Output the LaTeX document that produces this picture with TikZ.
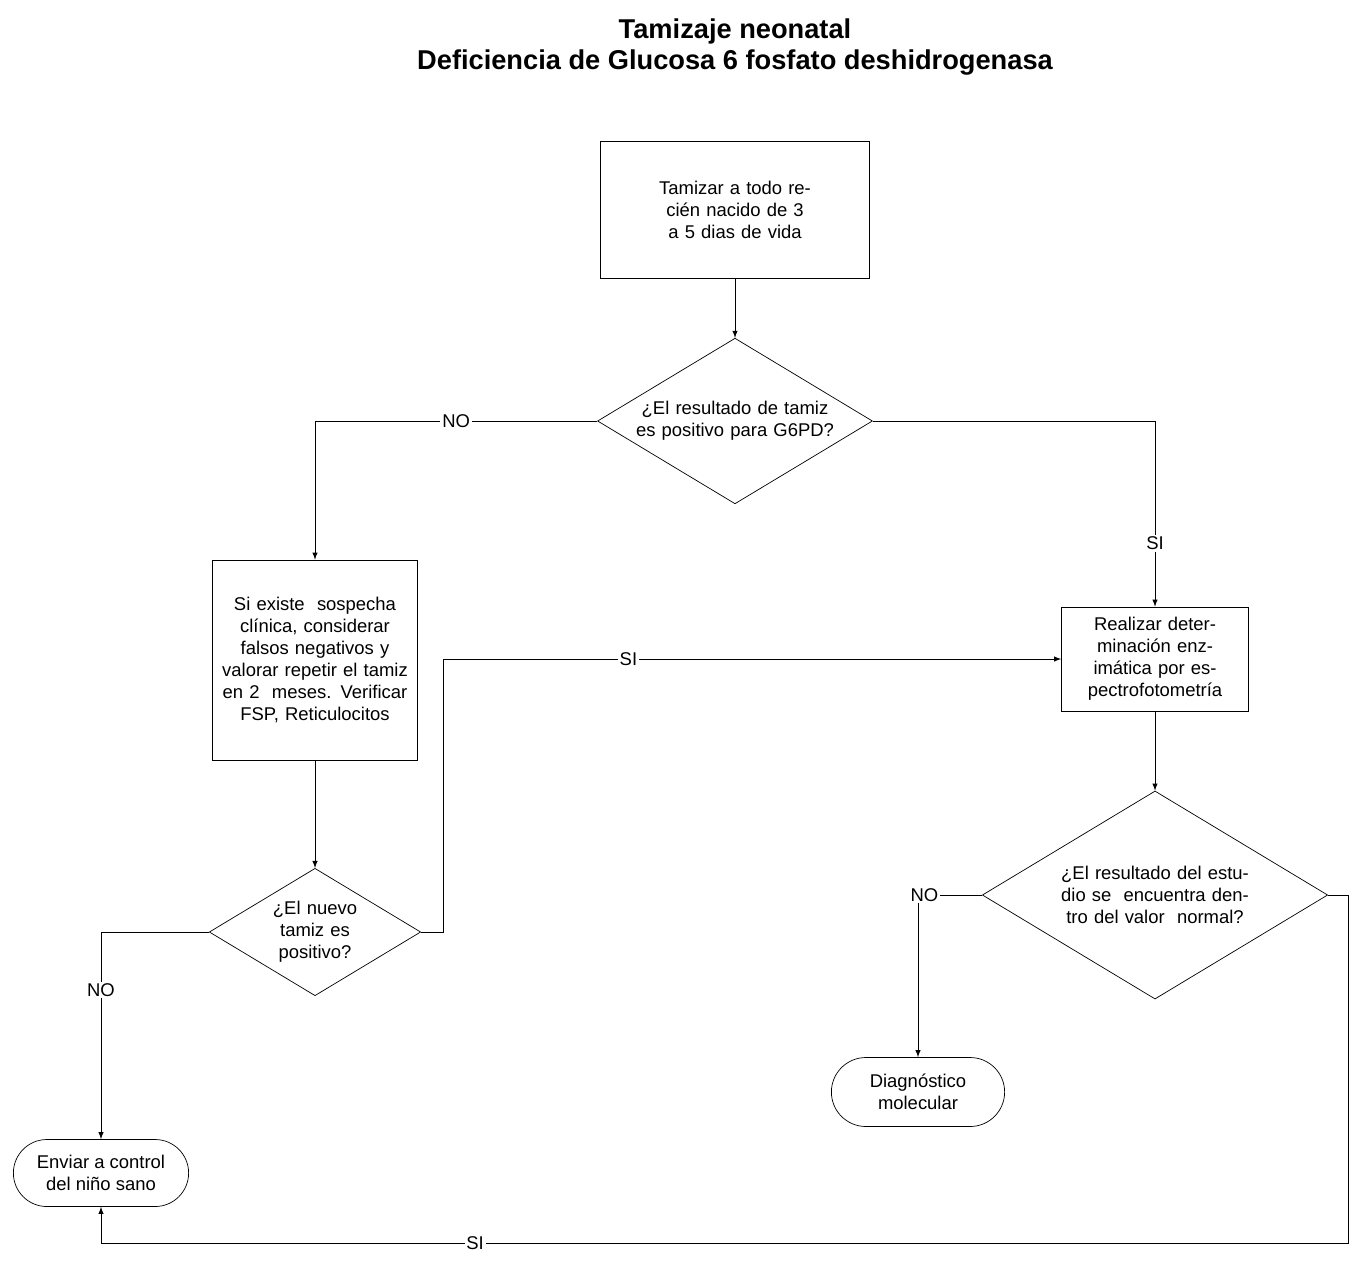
\documentclass[tikz,border=0pt]{standalone}
\usepackage{fontspec}
\setmainfont{Liberation Sans}
\usetikzlibrary{shapes.geometric}
\usetikzlibrary{shapes.misc}
\usetikzlibrary{calc}
\usetikzlibrary{positioning}
\begin{document}
\begin{tikzpicture}[>=latex, x=0.02cm, y=-0.02cm,
paso/.style={draw, rectangle, inner sep=2pt, align=center, font=\fontsize{10.5}{12.5}\selectfont},
pregunta/.style={draw, diamond, aspect=1.66, inner sep=0pt, align=center, font=\fontsize{10.5}{12.5}\selectfont},
fin/.style={draw, rounded rectangle, align=center, font=\fontsize{10.5}{12.5}\selectfont},
flecha/.style={->},
rotulo/.style={fill=white, inner sep=1pt, font=\fontsize{10.5}{12.5}\selectfont}]
\useasboundingbox (0,0) rectangle (1358,1262);
\node[font=\bfseries\fontsize{15.5}{18}\selectfont, align=center] (titulo) at (735,47) {Tamizaje neonatal\\Deficiencia de Glucosa 6 fosfato deshidrogenasa};
\node[paso, minimum width=5.38cm, minimum height=2.74cm, text width=4.3cm] (tamizar) at (735,210) {Tamizar a todo recién nacido de 3 a 5 dias de vida};
\node[pregunta, minimum width=5.08cm, minimum height=3.06cm, text width=4.2cm] (res1) at (735,421) {¿El resultado de tamiz es positivo para G6PD?};
\node[paso, minimum width=4.1cm, minimum height=4cm, text width=3.9cm] (sospecha) at (315,660) {Si existe\ \ sospecha clínica, considerar falsos negativos y valorar repetir el tamiz en 2\ \ meses. Verificar FSP, Reticulocitos};
\node[paso, minimum width=3.74cm, minimum height=2.08cm, text width=3.6cm] (enzima) at (1155,659) {Realizar determinación enzimática por espectrofotometría};
\node[pregunta, minimum width=3.74cm, minimum height=2.08cm, text width=2.2cm] (nuevo) at (315,932) {¿El nuevo tamiz es positivo?};
\node[pregunta, minimum width=6.28cm, minimum height=4cm, text width=5cm] (res2) at (1155,895) {¿El resultado del estudio se\ \ encuentra dentro del valor\ \ normal?};
\node[fin, minimum width=3.74cm, minimum height=1.34cm] (control) at (101,1173) {Enviar a control\\del niño sano};
\node[fin, minimum width=3.7cm, minimum height=1.38cm] (molecular) at (918,1092) {Diagnóstico\\molecular};
\coordinate (vuelta) at (1348,1243);
\draw[flecha] (tamizar) -- (res1);
\draw[flecha] (res1.west) -| node[rotulo, pos=.25]{NO} (sospecha.north);
\draw[flecha] (res1.east) -| node[rotulo, pos=.83]{SI} (enzima.north);
\draw[flecha] (sospecha) -- (nuevo);
\draw[flecha] (nuevo.east) -- (443,932) |- node[rotulo, pos=.65]{SI} (enzima.west);
\draw[flecha] (nuevo.west) -| node[rotulo, pos=.64]{NO} (control.north);
\draw[flecha] (enzima) -- (res2);
\draw[flecha] (res2.west) -| node[rotulo, pos=.45]{NO} (molecular.north);
\draw[flecha] (res2.east) -| (vuelta) -| node[rotulo, pos=.35]{SI} (control.south);
\end{tikzpicture}
\end{document}
